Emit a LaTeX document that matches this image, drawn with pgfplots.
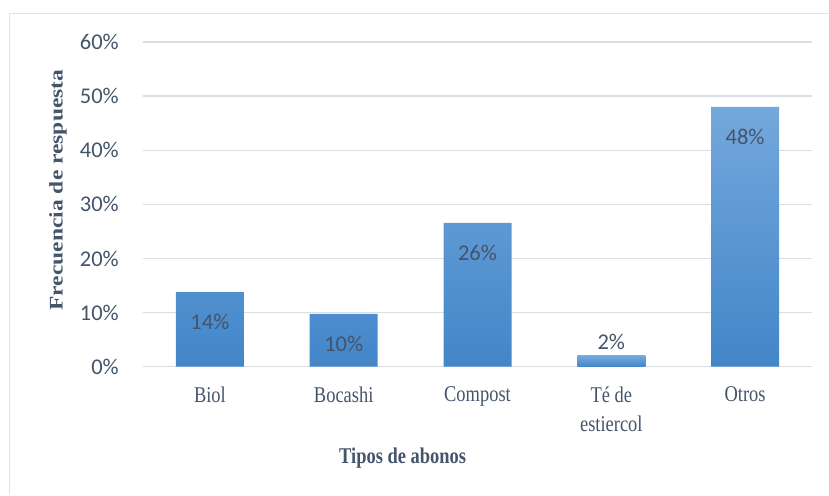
\documentclass[border=0pt]{standalone}
\usepackage{graphicx}
\usepackage{pgfplots}
\pgfplotsset{compat=1.18}
\usepackage{fontspec}
\setmainfont{Liberation Serif}
\newfontfamily\calibri{Carlito}
\definecolor{txt}{RGB}{68,84,106}
\definecolor{gridc}{RGB}{217,222,230}
\definecolor{framec}{RGB}{222,226,233}
\definecolor{bartop}{RGB}{116,168,220}
\definecolor{barbot}{RGB}{66,134,201}
\newcommand\sq[1]{\scalebox{0.82}[1]{#1}}
\begin{document}
\begin{tikzpicture}
\useasboundingbox (-143pt,-128.3pt) rectangle (686pt,366.7pt);
\draw[framec, line width=1pt] (-133pt,-128.3pt) -- (-133pt,352.7pt) -- (686pt,352.7pt);
\begin{axis}[
  at={(0pt,0pt)}, anchor=south west,
  scale only axis, width=669pt, height=324.7pt,
  xmin=-0.5, xmax=4.5, ymin=0, ymax=60,
  ytick={0,10,...,60},
  yticklabel={\pgfmathprintnumber{\tick}\%},
  /pgf/number format/assume math mode=true,
  ymajorgrids, grid style={gridc, line width=1.3pt},
  axis line style={draw=none}, major tick length=0pt,
  xtick={0,1,2,3,4},
  xticklabels={\sq{Biol},\sq{Bocashi},\sq{Compost},{\sq{Té de}\\\sq{estiercol}},\sq{Otros}},
  xticklabel style={font=\fontsize{22.5}{29}\selectfont, text=txt, align=center, anchor=north, inner sep=0pt, yshift=-20pt},
  yticklabel style={font=\calibri\fontsize{22.5}{26}\selectfont, text=txt, anchor=east, inner sep=0pt, xshift=-24pt},
  ylabel={\scalebox{1}[0.82]{\bfseries Frecuencia de respuesta}},
  ylabel style={font=\fontsize{23.5}{26}\selectfont, text=txt, at={(axis description cs:-0.127,0.544)}, anchor=center},
  xlabel={\sq{\bfseries Tipos de abonos}},
  xlabel style={font=\fontsize{22.5}{26}\selectfont, text=txt, at={(axis description cs:0.388,-0.281)}, anchor=center},
  ybar, bar width=68pt, bar shift=0pt,
  nodes near coords, point meta=explicit symbolic,
  every node near coord/.append style={font=\calibri\fontsize{22.5}{26}\selectfont, text=txt, anchor=center},
]
\addplot[draw=none, top color=bartop, bottom color=barbot,
  every node near coord/.append style={yshift=-30pt}]
  coordinates {(0,13.8) [14\%] (1,9.75) [10\%] (2,26.6) [26\%] (4,48.0) [48\%]};
\addplot[draw=none, top color=bartop, bottom color=barbot,
  every node near coord/.append style={yshift=14pt}]
  coordinates {(3,2.0) [2\%]};
\end{axis}
\end{tikzpicture}
\end{document}
